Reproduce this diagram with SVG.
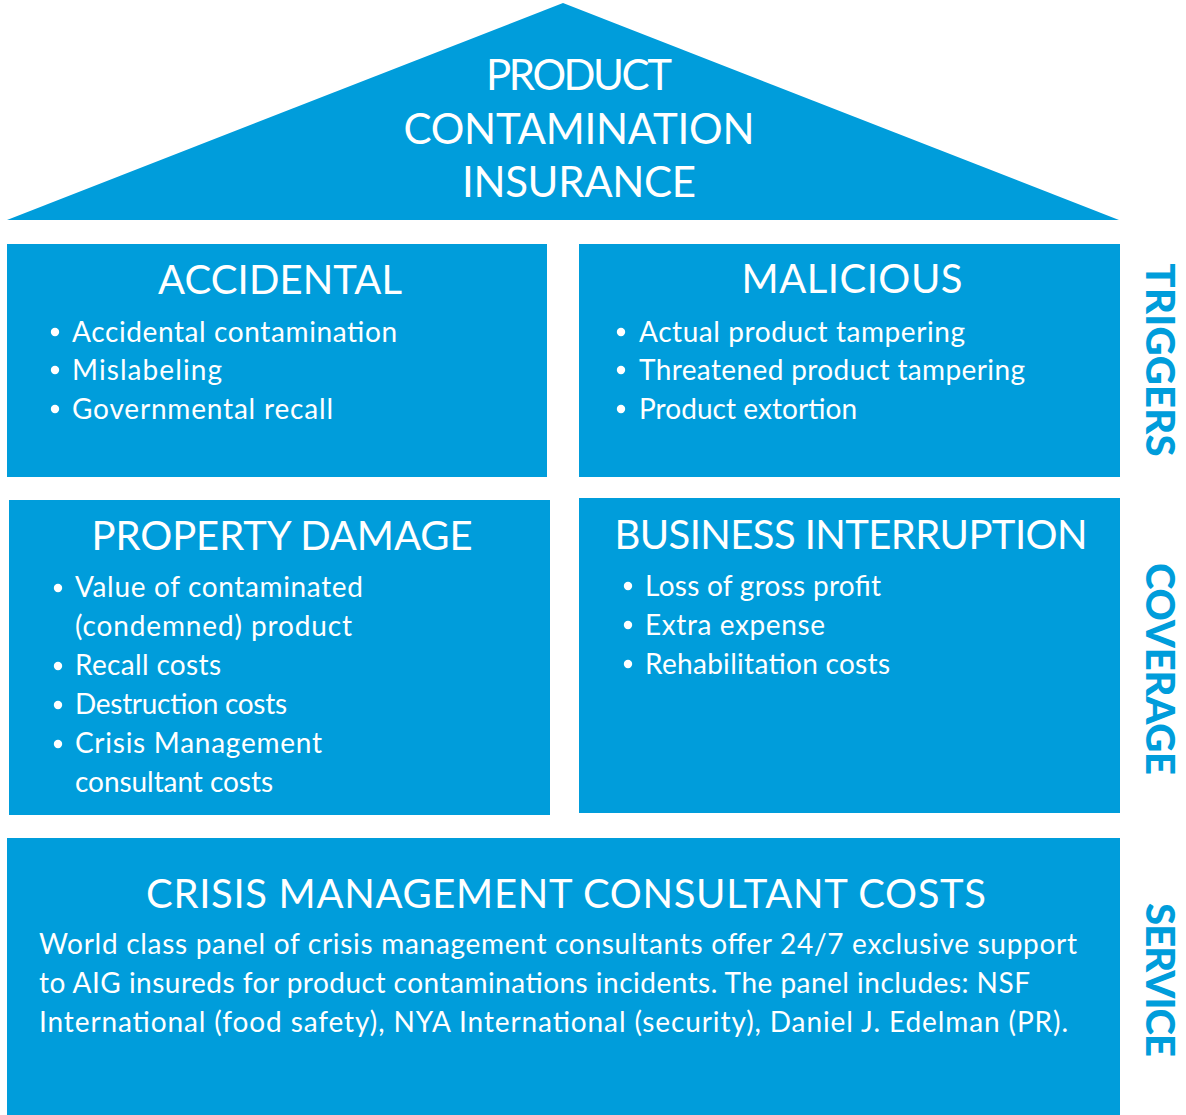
<svg xmlns="http://www.w3.org/2000/svg" width="1186" height="1115" viewBox="0 0 1186 1115">
  <style>
    .panel { fill: #009DDB; }
    .head { font-family: Lato, "Noto Sans", sans-serif; font-size: 40px; fill: #ffffff; text-anchor: middle; }
    .roof { font-family: Lato, "Noto Sans", sans-serif; font-size: 42px; fill: #ffffff; text-anchor: middle; }
    .item { font-family: Lato, "Noto Sans", sans-serif; font-size: 28px; fill: #ffffff; }
    .dot { fill: #ffffff; }
    .side { font-family: Lato, "Liberation Sans", sans-serif; font-size: 40px; font-weight: 900; fill: #009DDB; text-anchor: middle; }
  </style>
  <rect width="1186" height="1115" fill="#ffffff"/>

  <!-- roof -->
  <g id="roof">
    <polygon class="panel" points="563,3 1119,220 7,220"/>
    <text class="roof" x="579" y="90" textLength="186">PRODUCT</text>
    <text class="roof" x="579" y="144" textLength="351">CONTAMINATION</text>
    <text class="roof" x="579" y="197" textLength="234">INSURANCE</text>
  </g>

  <!-- triggers -->
  <g id="accidental">
    <rect class="panel" x="7" y="244" width="540" height="233"/>
    <text class="head" x="280" y="294" textLength="244">ACCIDENTAL</text>
    <circle class="dot" cx="55" cy="332" r="4.2"/>
    <text class="item" x="72" y="342" textLength="325">Accidental contamination</text>
    <circle class="dot" cx="55" cy="370" r="4.2"/>
    <text class="item" x="72" y="380" textLength="150">Mislabeling</text>
    <circle class="dot" cx="55" cy="409" r="4.2"/>
    <text class="item" x="72" y="419" textLength="261">Governmental recall</text>
  </g>

  <g id="malicious">
    <rect class="panel" x="579" y="244" width="541" height="233"/>
    <text class="head" x="852" y="293" textLength="221">MALICIOUS</text>
    <circle class="dot" cx="621" cy="332" r="4.2"/>
    <text class="item" x="639" y="342" textLength="326">Actual product tampering</text>
    <circle class="dot" cx="621" cy="370" r="4.2"/>
    <text class="item" x="639" y="380" textLength="386">Threatened product tampering</text>
    <circle class="dot" cx="621" cy="409" r="4.2"/>
    <text class="item" x="639" y="419" textLength="218">Product extortion</text>
  </g>

  <!-- coverage -->
  <g id="property-damage">
    <rect class="panel" x="9" y="500" width="541" height="315"/>
    <text class="head" x="282" y="550" textLength="381">PROPERTY DAMAGE</text>
    <circle class="dot" cx="58" cy="588" r="4.2"/>
    <text class="item" x="75" y="597" textLength="288">Value of contaminated</text>
    <text class="item" x="75" y="636" textLength="277">(condemned) product</text>
    <circle class="dot" cx="58" cy="666" r="4.2"/>
    <text class="item" x="75" y="675" textLength="146">Recall costs</text>
    <circle class="dot" cx="58" cy="705" r="4.2"/>
    <text class="item" x="75" y="714" textLength="212">Destruction costs</text>
    <circle class="dot" cx="58" cy="744" r="4.2"/>
    <text class="item" x="75" y="753" textLength="247">Crisis Management</text>
    <text class="item" x="75" y="792" textLength="198">consultant costs</text>
  </g>

  <g id="business-interruption">
    <rect class="panel" x="579" y="498" width="541" height="315"/>
    <text class="head" x="851" y="549" textLength="473">BUSINESS INTERRUPTION</text>
    <circle class="dot" cx="628" cy="586" r="4.2"/>
    <text class="item" x="645" y="596" textLength="236">Loss of gross profit</text>
    <circle class="dot" cx="628" cy="625" r="4.2"/>
    <text class="item" x="645" y="635" textLength="180">Extra expense</text>
    <circle class="dot" cx="628" cy="664" r="4.2"/>
    <text class="item" x="645" y="674" textLength="245">Rehabilitation costs</text>
  </g>

  <!-- service -->
  <g id="crisis-management">
    <rect class="panel" x="7" y="838" width="1113" height="277"/>
    <text class="head" x="566" y="908" textLength="840">CRISIS MANAGEMENT CONSULTANT COSTS</text>
    <text class="item" x="39" y="954" textLength="1038">World class panel of crisis management consultants offer 24/7 exclusive support</text>
    <text class="item" x="39" y="993" textLength="991">to AIG insureds for product contaminations incidents. The panel includes: NSF</text>
    <text class="item" x="39" y="1032" textLength="1029">International (food safety), NYA International (security), Daniel J. Edelman (PR).</text>
  </g>

  <!-- row labels -->
  <g id="row-labels">
    <text class="side" transform="translate(1146,360) rotate(90)" textLength="193">TRIGGERS</text>
    <text class="side" transform="translate(1146,669) rotate(90)" textLength="212">COVERAGE</text>
    <text class="side" transform="translate(1146,980) rotate(90)" textLength="154">SERVICE</text>
  </g>
</svg>
